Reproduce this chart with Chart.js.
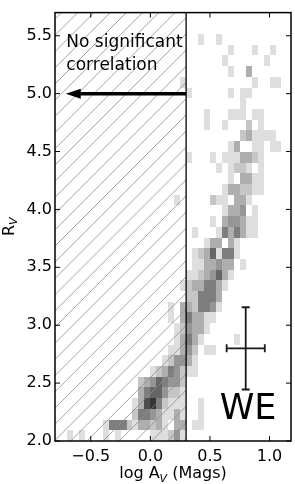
<!DOCTYPE html>
<html>
<head>
<meta charset="utf-8">
<script src="https://cdn.jsdelivr.net/npm/chart.js@4.4.1/dist/chart.umd.min.js"></script>
<style>
  html, body { margin: 0; padding: 0; background: #fff; }
</style>
</head>
<body>
<canvas id="myChart" width="295" height="484"></canvas>
<script>
const xMin = -0.8
const xMax = 1.18
const yMin = 2.0
const yMax = 5.7
const xTicks = [-0.5, 0.0, 0.5, 1.0]
const yTicks = [2.0, 2.5, 3.0, 3.5, 4.0, 4.5, 5.0, 5.5]

// 2d histogram of log A_V vs R_V, top row first, digit = shade (1 light .. 8 dark)
const binStartX = -0.8
const binWidthX = 0.05
const binStartY = 2.0
const binWidthY = 0.0925
const histRows = [
  ".......... .......... .......... ..........",
  ".......... .......... .......... ..........",
  ".......... .......... ....1..1.. ..........",
  ".......... .......... .........1 ...1..1...",
  ".......... .......... ........1. .....1....",
  ".......... .......... .........1 ..3.......",
  ".......... .......... .1........ ...1..11..",
  ".......... .......... ..1......1 .11.......",
  ".......... .......... .......... .1........",
  ".......... .......... .....1...1 11.11.....",
  ".......... .......... .....1..1. ..2.1.....",
  ".......... .......... .......... .231111...",
  ".......... .......... .........1 3..11.11..",
  ".......... .......... ..1...1.11 13321.....",
  ".......... .......... .......1.1 221.1.....",
  ".......... .......... .........1 .3311.....",
  ".......... .......... ........13 32211.....",
  ".......... .......... 1.....211. 331.......",
  ".......... .......... ........13 34.1......",
  ".......... .......... ......1.34 4311......",
  ".......... .......... ...1...153 5311......",
  ".......... .......... .....133.3 1.........",
  ".......... .......... ...1236155 1.........",
  ".......... .......... ...1133433 .1........",
  ".......... .......... ..11234631 ..........",
  ".......... .......... .12335531. ..........",
  ".......... .......... ..225553.. ..........",
  ".......... .........1 .3325541.. ..........",
  ".......... .........1 .353311... ..........",
  ".......... .......... 124331.... ..........",
  ".......... .......... 13531..... 1.........",
  ".......... .........1 1342.11... ..........",
  ".......... ........12 4431...... ..........",
  ".......... ......1235 4211...... ..........",
  ".......... ....234654 42........ ..........",
  ".......... ....356642 21........ ..........",
  ".......... ...1378521 11..1..... ..........",
  ".......... ...2554311 31..1..... ..........",
  "........15 552133231. 33.11..... ..........",
  "..1.1...1. 1.....1112 41........ ..........",
]

const cutoffX = 0.3
const arrowY = 5.0
const arrowTipX = -0.71
const noteLines = ["No significant", "correlation"]
const noteX = -0.705
const noteY = [5.40, 5.20]
const errX = 0.8
const errY = 2.8
const errDx = 0.16
const errDy = 0.355
const cornerText = "WE"
const cornerX = 0.82
const cornerY = 2.19

const FONT = '"DejaVu Sans"'

function fmt(v) {
  return v.toFixed(1).replace("-", "\u2212")
}

function shade(level) {
  const g = 222 - (level - 1) * 24
  return `rgb(${g},${g},${g})`
}

function drawSubText(ctx, main, sub, tail, size) {
  // draws centred on (0,0) baseline
  ctx.font = `${size}px ${FONT}`
  const w1 = ctx.measureText(main).width
  const w3 = ctx.measureText(tail).width
  ctx.font = `italic ${Math.round(size * 0.7)}px ${FONT}`
  const w2 = ctx.measureText(sub).width
  let x = -(w1 + w2 + w3) / 2
  ctx.textAlign = "left"
  ctx.textBaseline = "alphabetic"
  ctx.font = `${size}px ${FONT}`
  ctx.fillText(main, x, 0)
  x += w1
  ctx.font = `italic ${Math.round(size * 0.7)}px ${FONT}`
  ctx.fillText(sub, x, 3.5)
  x += w2
  ctx.font = `${size}px ${FONT}`
  ctx.fillText(tail, x, 0)
}

const overlay = {
  id: "overlay",
  beforeDatasetsDraw(chart) {
    const { ctx, chartArea: a, scales } = chart
    const x = scales.x
    const y = scales.y
    ctx.save()
    ctx.beginPath()
    ctx.rect(a.left, a.top, a.right - a.left, a.bottom - a.top)
    ctx.clip()

    // histogram cells
    histRows.forEach(function (row, k) {
      const r = histRows.length - 1 - k
      const cells = row.replace(/ /g, "")
      for (let i = 0; i < cells.length; i++) {
        const lvl = Number(cells[i])
        if (!lvl) continue
        const x0 = Math.round(x.getPixelForValue(binStartX + i * binWidthX))
        const x1 = Math.round(x.getPixelForValue(binStartX + (i + 1) * binWidthX))
        const y0 = Math.round(y.getPixelForValue(binStartY + r * binWidthY))
        const y1 = Math.round(y.getPixelForValue(binStartY + (r + 1) * binWidthY))
        ctx.fillStyle = shade(lvl)
        ctx.fillRect(x0, y1, x1 - x0, y0 - y1)
      }
    })

    // hatched region left of the cutoff
    const xc = x.getPixelForValue(cutoffX)
    ctx.save()
    ctx.beginPath()
    ctx.rect(a.left, a.top, xc - a.left, a.bottom - a.top)
    ctx.clip()
    ctx.strokeStyle = "#8c8c8c"
    ctx.lineWidth = 0.8
    const step = 16.2
    for (let c = 58 - step * 2; c < xc + a.bottom + step; c += step) {
      ctx.beginPath()
      ctx.moveTo(c - a.bottom, a.bottom)
      ctx.lineTo(c - a.top, a.top)
      ctx.stroke()
    }
    ctx.restore()

    ctx.strokeStyle = "#000"
    ctx.lineWidth = 1.3
    ctx.beginPath()
    ctx.moveTo(xc, a.top)
    ctx.lineTo(xc, a.bottom)
    ctx.stroke()

    // arrow
    const ay = y.getPixelForValue(arrowY)
    const tip = x.getPixelForValue(arrowTipX)
    const headLen = 15
    ctx.lineWidth = 3.5
    ctx.beginPath()
    ctx.moveTo(xc, ay)
    ctx.lineTo(tip + headLen - 1, ay)
    ctx.stroke()
    ctx.fillStyle = "#000"
    ctx.beginPath()
    ctx.moveTo(tip, ay)
    ctx.lineTo(tip + headLen, ay - 5)
    ctx.lineTo(tip + headLen, ay + 5)
    ctx.closePath()
    ctx.fill()

    // note
    ctx.font = `17px ${FONT}`
    ctx.textAlign = "left"
    ctx.textBaseline = "alphabetic"
    noteLines.forEach(function (t, i) {
      ctx.fillText(t, x.getPixelForValue(noteX), y.getPixelForValue(noteY[i]))
    })

    // error bar
    const ex = x.getPixelForValue(errX)
    const ey = y.getPixelForValue(errY)
    const exl = x.getPixelForValue(errX - errDx)
    const exr = x.getPixelForValue(errX + errDx)
    const eyt = y.getPixelForValue(errY + errDy)
    const eyb = y.getPixelForValue(errY - errDy)
    ctx.strokeStyle = "#1a1a1a"
    ctx.lineWidth = 1.8
    ctx.beginPath()
    ctx.moveTo(exl, ey); ctx.lineTo(exr, ey)
    ctx.moveTo(ex, eyt); ctx.lineTo(ex, eyb)
    ctx.moveTo(exl, ey - 4); ctx.lineTo(exl, ey + 4)
    ctx.moveTo(exr, ey - 4); ctx.lineTo(exr, ey + 4)
    ctx.moveTo(ex - 4, eyt); ctx.lineTo(ex + 4, eyt)
    ctx.moveTo(ex - 4, eyb); ctx.lineTo(ex + 4, eyb)
    ctx.stroke()

    ctx.fillStyle = "#000"
    ctx.font = `35px ${FONT}`
    ctx.textAlign = "center"
    ctx.fillText(cornerText, x.getPixelForValue(cornerX), y.getPixelForValue(cornerY))
    ctx.restore()
  },
  afterDraw(chart) {
    const { ctx, chartArea: a, scales } = chart
    const x = scales.x
    const y = scales.y
    ctx.save()
    ctx.strokeStyle = "#000"
    ctx.lineWidth = 1
    const tl = 5
    xTicks.forEach(function (v) {
      const px = x.getPixelForValue(v)
      ctx.beginPath()
      ctx.moveTo(px, a.bottom); ctx.lineTo(px, a.bottom - tl)
      ctx.moveTo(px, a.top); ctx.lineTo(px, a.top + tl)
      ctx.stroke()
    })
    yTicks.forEach(function (v) {
      const py = y.getPixelForValue(v)
      ctx.beginPath()
      ctx.moveTo(a.left, py); ctx.lineTo(a.left + tl, py)
      ctx.moveTo(a.right, py); ctx.lineTo(a.right - tl, py)
      ctx.stroke()
    })
    ctx.lineWidth = 1.5
    ctx.strokeRect(a.left, a.top, a.right - a.left, a.bottom - a.top)

    ctx.fillStyle = "#000"
    ctx.save()
    ctx.translate((a.left + a.right) / 2, 478)
    drawSubText(ctx, "log A", "V", " (Mags)", 16)
    ctx.restore()
    ctx.save()
    ctx.translate(13.5, (a.top + a.bottom) / 2)
    ctx.rotate(-Math.PI / 2)
    drawSubText(ctx, "R", "V", "", 16)
    ctx.restore()
    ctx.restore()
  }
}

function drawChart() {
  const ctx = document.getElementById("myChart")
  new Chart(ctx, {
    type: "scatter",
    data: { datasets: [] },
    options: {
      responsive: false,
      animation: false,
      devicePixelRatio: 1,
      layout: { padding: { top: 1, right: 4, left: 0, bottom: 0 } },
      plugins: { legend: { display: false }, tooltip: { enabled: false } },
      scales: {
        x: {
          type: "linear",
          min: xMin,
          max: xMax,
          grid: { display: false, drawTicks: false },
          border: { display: false },
          ticks: {
            autoSkip: false,
            maxRotation: 0,
            padding: 6,
            color: "#000",
            font: { family: "DejaVu Sans", size: 16 },
            callback: function (v) { return fmt(v) },
          },
          afterBuildTicks: function (s) { s.ticks = xTicks.map(function (v) { return { value: v } }) },
          afterFit: function (s) { s.height = 43 },
        },
        y: {
          type: "linear",
          min: yMin,
          max: yMax,
          grid: { display: false, drawTicks: false },
          border: { display: false },
          ticks: {
            autoSkip: false,
            padding: 3,
            color: "#000",
            font: { family: "DejaVu Sans", size: 16 },
            callback: function (v) { return fmt(v) },
          },
          afterBuildTicks: function (s) { s.ticks = yTicks.map(function (v) { return { value: v } }) },
          afterFit: function (s) { s.width = 55 },
        },
      },
    },
    plugins: [overlay],
  })
}

document.addEventListener("DOMContentLoaded", drawChart)
</script>
</body>
</html>
